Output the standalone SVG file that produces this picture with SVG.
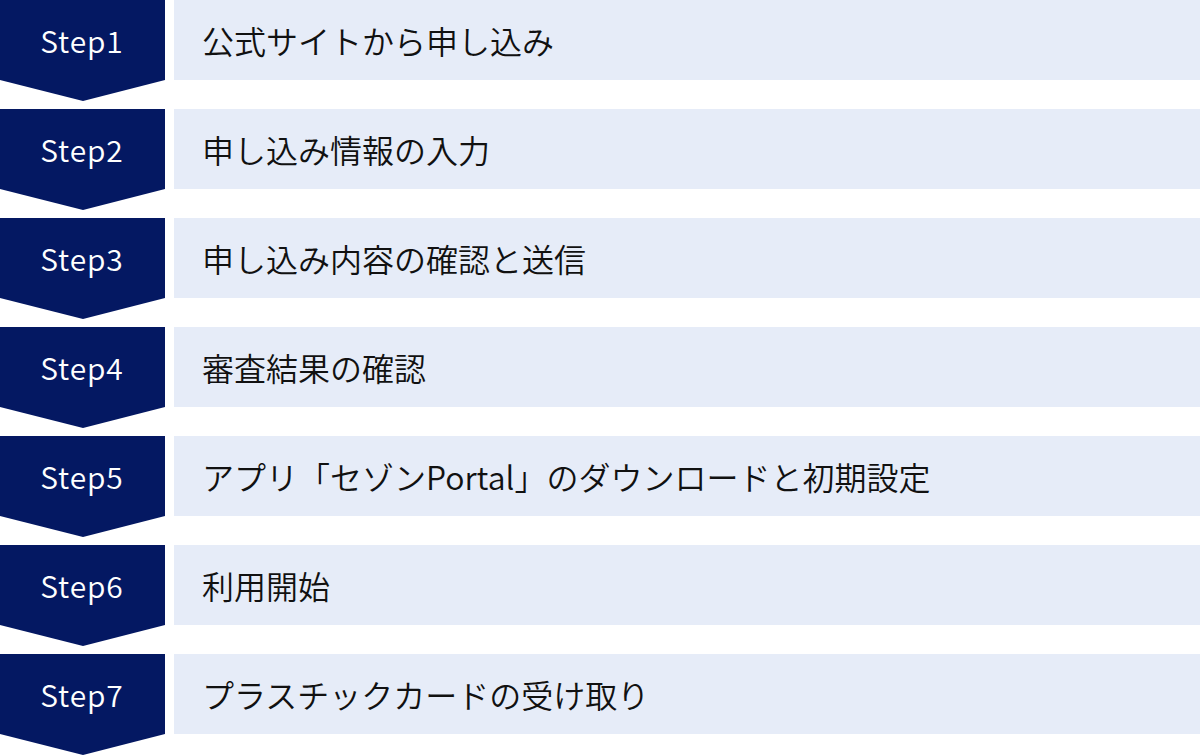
<svg xmlns="http://www.w3.org/2000/svg" width="1200" height="756" viewBox="0 0 1200 756">
<style>
.badge{fill:#041862}
.bar{fill:#E6ECF8}
.st{font-family:"Noto Sans CJK JP","Noto Sans",sans-serif;font-size:30px;fill:#fff;text-anchor:middle;letter-spacing:0.9px;font-weight:350}
.lb{font-family:"Noto Sans CJK JP","Noto Sans",sans-serif;font-size:32px;fill:#111;font-weight:350}
</style>
<defs>
<path id="chev" d="M0 0H165V80L83 101L0 80Z"/>
</defs>
<rect width="1200" height="756" fill="#fff"/>
<g id="connectors"></g>
<g id="step1" transform="translate(0,0)"><use href="#chev" class="badge"/><rect class="bar" x="174" y="0" width="1026" height="80"/><text class="st" x="82" y="53">Step1</text><text class="lb" x="202" y="54">公式サイトから申し込み</text></g>
<g id="step2" transform="translate(0,109)"><use href="#chev" class="badge"/><rect class="bar" x="174" y="0" width="1026" height="80"/><text class="st" x="82" y="53">Step2</text><text class="lb" x="202" y="54">申し込み情報の入力</text></g>
<g id="step3" transform="translate(0,218)"><use href="#chev" class="badge"/><rect class="bar" x="174" y="0" width="1026" height="80"/><text class="st" x="82" y="53">Step3</text><text class="lb" x="202" y="54">申し込み内容の確認と送信</text></g>
<g id="step4" transform="translate(0,327)"><use href="#chev" class="badge"/><rect class="bar" x="174" y="0" width="1026" height="80"/><text class="st" x="82" y="53">Step4</text><text class="lb" x="202" y="54">審査結果の確認</text></g>
<g id="step5" transform="translate(0,436)"><use href="#chev" class="badge"/><rect class="bar" x="174" y="0" width="1026" height="80"/><text class="st" x="82" y="53">Step5</text><text class="lb" x="202" y="54">アプリ「セゾンPortal」のダウンロードと初期設定</text></g>
<g id="step6" transform="translate(0,545)"><use href="#chev" class="badge"/><rect class="bar" x="174" y="0" width="1026" height="80"/><text class="st" x="82" y="53">Step6</text><text class="lb" x="202" y="54">利用開始</text></g>
<g id="step7" transform="translate(0,654)"><use href="#chev" class="badge"/><rect class="bar" x="174" y="0" width="1026" height="80"/><text class="st" x="82" y="53">Step7</text><text class="lb" x="202" y="54">プラスチックカードの受け取り</text></g>
</svg>
